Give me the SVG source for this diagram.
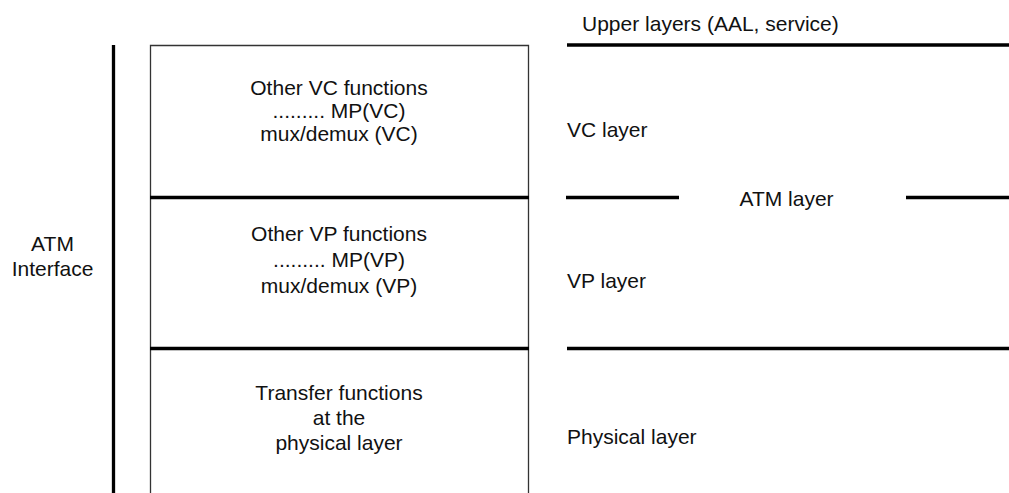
<svg xmlns="http://www.w3.org/2000/svg" width="1009" height="493" viewBox="0 0 1009 493">
<style>
text{font-family:"Liberation Sans",Arial,sans-serif;font-size:21px;fill:#111}
.c{text-anchor:middle}
.thin{stroke:#333;stroke-width:1.3;fill:none}
.thick{stroke:#000;stroke-width:3.3;fill:none}
</style>
<rect width="1009" height="493" fill="#fff"/>
<g id="interface">
<line class="thick" x1="113.5" y1="45" x2="113.5" y2="493"/>
<text class="c" x="52.5" y="251">ATM</text>
<text class="c" x="52.5" y="276">Interface</text>
</g>
<g id="box-frame">
<polyline class="thin" points="150.5,493 150.5,45.5 528.5,45.5 528.5,493"/>
</g>
<g id="vc-functions">
<text class="c" x="339" y="95">Other VC functions</text>
<text class="c" x="339" y="118">......... MP(VC)</text>
<text class="c" x="339" y="141">mux/demux (VC)</text>
</g>
<g id="vp-functions">
<text class="c" x="339" y="241">Other VP functions</text>
<text class="c" x="339" y="267">......... MP(VP)</text>
<text class="c" x="339" y="293">mux/demux (VP)</text>
</g>
<g id="phy-functions">
<text class="c" x="339" y="400">Transfer functions</text>
<text class="c" x="339" y="425">at the</text>
<text class="c" x="339" y="450">physical layer</text>
</g>
<g id="connectors">
<line class="thick" x1="150" y1="197.5" x2="529" y2="197.5"/>
<line class="thick" x1="150" y1="348.5" x2="529" y2="348.5"/>
<line class="thick" x1="567" y1="45" x2="1009" y2="45"/>
<line class="thick" x1="566" y1="197.5" x2="679" y2="197.5"/>
<line class="thick" x1="906" y1="197.5" x2="1009" y2="197.5"/>
<line class="thick" x1="567" y1="348.5" x2="1009" y2="348.5"/>
</g>
<g id="layer-labels">
<text x="582" y="31">Upper layers (AAL, service)</text>
<text x="567" y="137">VC layer</text>
<text class="c" x="786.5" y="206">ATM layer</text>
<text x="567" y="288">VP layer</text>
<text x="567" y="444">Physical layer</text>
</g>
</svg>
